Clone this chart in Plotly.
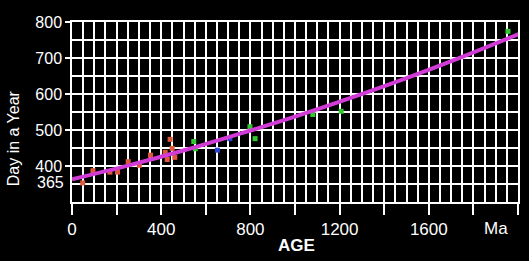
import plotly.graph_objects as go

# Data
orange_age = [48, 94, 170, 204, 252, 302, 352, 418, 427, 440, 449, 461]
orange_day = [353, 387, 383, 383, 412, 402, 430, 438, 418, 474, 449, 424]
green_age = [546, 553, 798, 821, 1080, 1207, 1955]
green_day = [468, 448, 509, 476, 543, 552, 774]
blue_age = [652, 708]
blue_day = [444, 476]
fit_age = [0, 250, 500, 750, 1000, 1250, 1500, 1750, 2010]
fit_day = [363, 401, 443, 489, 537, 589, 644, 703, 768]

x_tickvals = [0, 200, 400, 600, 800, 1000, 1200, 1400, 1600, 1800, 2000]
x_ticktext = ["0", "", "400", "", "800", "", "1200", "", "1600", "", ""]
y_tickvals = [400, 500, 600, 700, 800]
y_ticktext = ["400", "500", "600", "700", "800"]

fig = go.Figure()
for ax, dy, col in [(orange_age, orange_day, "#e0583a"),
                    (green_age, green_day, "#33c833"),
                    (blue_age, blue_day, "#2a44d0")]:
    fig.add_trace(go.Scatter(x=ax, y=dy, mode="markers",
                             marker=dict(symbol="square", size=5, color=col, line=dict(width=0)),
                             showlegend=False, cliponaxis=False))
fig.add_trace(go.Scatter(x=fit_age, y=fit_day, mode="lines",
                         line=dict(color="#d23cd6", width=4, shape="spline"),
                         showlegend=False, cliponaxis=False))

tickfont = dict(family="Liberation Sans, Arial, sans-serif", size=17, color="white")
yfont = dict(family="Liberation Sans, Arial, sans-serif", size=16, color="white")
fig.update_layout(
    width=529, height=261,
    margin=dict(l=72, r=9, t=22, b=59),
    paper_bgcolor="black", plot_bgcolor="black",
    xaxis=dict(range=[0, 2000], tickvals=x_tickvals, ticktext=x_ticktext,
               ticks="outside", ticklen=11, tickwidth=1.5, tickcolor="white",
               showgrid=True, gridcolor="white", gridwidth=1.5,
               minor=dict(dtick=50, showgrid=True, gridcolor="white", gridwidth=1.5, ticks=""),
               showline=True, mirror=True, linecolor="white", linewidth=1.5,
               zeroline=False, tickfont=tickfont, fixedrange=True),
    yaxis=dict(range=[300, 800], tickvals=y_tickvals, ticktext=y_ticktext,
               ticks="outside", ticklen=5, tickwidth=1.5, tickcolor="white",
               showgrid=True, gridcolor="white", gridwidth=1.5,
               minor=dict(dtick=50, showgrid=True, gridcolor="white", gridwidth=1.5, ticks=""),
               showline=True, mirror=True, linecolor="white", linewidth=1.5,
               zeroline=False, tickfont=yfont, fixedrange=True),
    annotations=[
        dict(text="Ma", xref="x", yref="paper", x=1900, y=0, yanchor="middle",
             yshift=-26, showarrow=False,
             font=dict(family="Liberation Sans, Arial, sans-serif", size=17, color="white")),
        dict(text="<b>AGE</b>", xref="x", yref="paper", x=1005, y=0, yanchor="middle",
             yshift=-43, showarrow=False,
             font=dict(family="Liberation Sans, Arial, sans-serif", size=17, color="white")),
        dict(text="Day in a Year", xref="paper", yref="paper", x=-0.132, y=0.355,
             xanchor="center", yanchor="middle", textangle=-90, showarrow=False,
             font=dict(family="Liberation Sans, Arial, sans-serif", size=16, color="white")),
        dict(text="365", xref="paper", yref="y", x=0, y=354, xanchor="right",
             yanchor="middle", xshift=-6, showarrow=False, font=yfont),
    ],
)
fig.write_html("out.html")
